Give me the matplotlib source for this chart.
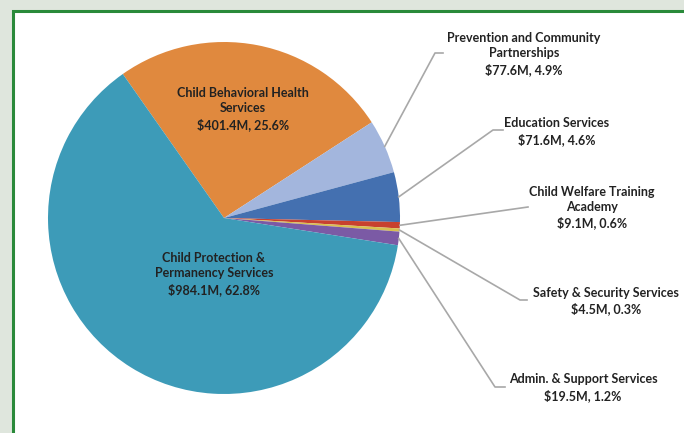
import matplotlib
matplotlib.use("Agg")
import matplotlib.pyplot as plt
from matplotlib.patches import Rectangle
import numpy as np

# ---- data ----
categories = [
    "Child Behavioral Health\nServices",
    "Prevention and Community\nPartnerships",
    "Education Services",
    "Child Welfare Training\nAcademy",
    "Safety & Security Services",
    "Admin. & Support Services",
    "Child Protection &\nPermanency Services",
]
values_musd = [401.4, 77.6, 71.6, 9.1, 4.5, 19.5, 984.1]
percent_labels = ["25.6%", "4.9%", "4.6%", "0.6%", "0.3%", "1.2%", "62.8%"]
colors = ["#e0893e", "#a3b6dd", "#4470b0", "#c8412f", "#d8c050", "#7b5aa5", "#3d9bb8"]

W, H = 684, 433
fig = plt.figure(figsize=(W / 100, H / 100), dpi=100, facecolor="#dfe6dd")
ax = fig.add_axes([0, 0, 1, 1])
ax.set_xlim(0, W)
ax.set_ylim(0, H)
ax.axis("off")

# frame
ax.add_patch(Rectangle((13, -20), 720, H - 11 + 20, facecolor="white",
                       edgecolor="#2a8a3a", linewidth=2.2, zorder=0))

cx, cy, R = 224, 215, 176
wedges, _ = ax.pie(values_musd, colors=colors, startangle=125.1, counterclock=False,
                   center=(cx, cy), radius=R, frame=True,
                   wedgeprops=dict(linewidth=0))
ax.set_xlim(0, W)
ax.set_ylim(0, H)
ax.set_aspect("equal")
ax.axis("off")

font = dict(family=["Lato", "DejaVu Sans"], fontweight="bold", fontsize=9,
            color="#222222", ha="center", va="center", linespacing=1.3)

def lab(i):
    return f"{categories[i]}\n${values_musd[i]}M, {percent_labels[i]}"

# inside labels
ax.text(243, 324, lab(0), **font)
ax.text(214, 159, lab(6), **font)

# outside labels: (index, text pos, leader path points)
outside = [
    (1, (524, 379), [(435, 380), (443, 380)]),
    (2, (557, 301.5), [(493, 303), (503, 303)]),
    (3, (592, 225.5), [(528, 226)]),
    (4, (606, 132), [(520, 133), (527, 133)]),
    (5, (583, 45.5), [(495, 46), (505, 46)]),
]
for i, tpos, path in outside:
    w = wedges[i]
    mid = np.deg2rad((w.theta1 + w.theta2) / 2)
    start = (cx + R * np.cos(mid), cy + R * np.sin(mid))
    pts = [start] + path
    xs, ys = zip(*pts)
    ax.plot(xs, ys, color="#a8a8a8", linewidth=1.2, zorder=3)
    ax.text(tpos[0], tpos[1], lab(i), **font)

fig.savefig("out.png", dpi=100, facecolor=fig.get_facecolor())
